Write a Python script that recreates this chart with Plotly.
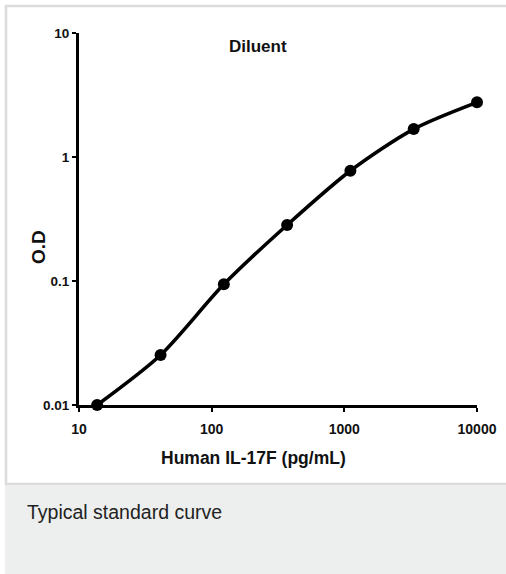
import plotly.graph_objects as go

# Data
concentration = [13.7, 41.2, 123.5, 370.4, 1111.1, 3333.3, 10000]
od_values = [0.01, 0.0253, 0.094, 0.283, 0.775, 1.68, 2.76]
x_tickvals = [10, 100, 1000, 10000]
x_ticktext = ["10", "100", "1000", "10000"]
y_tickvals = [0.01, 0.1, 1, 10]
y_ticktext = ["0.01", "0.1", "1", "10"]

W, H = 506, 574
L, R, T, B = 79, 477, 33, 405  # plot area pixel bounds


def px(xp):
    return (xp - L) / (R - L)


def py(yp):
    return (B - yp) / (B - T)


fig = go.Figure()
fig.add_trace(go.Scatter(
    x=concentration, y=od_values,
    mode="lines+markers",
    line=dict(color="black", width=3.6, shape="spline", smoothing=0.8),
    marker=dict(color="black", size=12),
    cliponaxis=False,
    showlegend=False,
))

axis_common = dict(
    showgrid=False, zeroline=False,
    showline=True, linecolor="black", linewidth=3,
    ticks="outside", ticklen=4, tickwidth=2, tickcolor="black",
)

fig.update_xaxes(type="log", range=[1, 4], tickvals=x_tickvals, ticktext=x_ticktext,
                 tickfont=dict(family="Liberation Sans, Arial, sans-serif", size=14,
                               color="#111", weight="bold"),
                 ticklabelstandoff=5,
                 **axis_common)
fig.update_yaxes(type="log", range=[-2, 1], tickvals=y_tickvals, ticktext=y_ticktext,
                 tickfont=dict(family="Liberation Sans, Arial, sans-serif", size=13.5,
                               color="#111", weight="bold"),
                 **axis_common)

shapes = [
    # outer light border of the chart card
    dict(type="rect", xref="paper", yref="paper",
         x0=px(6), x1=px(520), y0=py(484), y1=py(6),
         line=dict(color="#dcdcdc", width=2.5), fillcolor="rgba(0,0,0,0)", layer="below"),
    # caption band
    dict(type="rect", xref="paper", yref="paper",
         x0=px(5), x1=px(520), y0=py(580), y1=py(485),
         line=dict(width=0), fillcolor="#edefee", layer="below"),
]

annotations = [
    dict(text="Diluent", xref="paper", yref="paper", x=px(258), y=py(47),
         showarrow=False, xanchor="center", yanchor="middle",
         font=dict(family="Liberation Sans, Arial, sans-serif", size=17, color="#111", weight="bold")),
    dict(text="Human IL-17F (pg/mL)", xref="paper", yref="paper", x=px(253), y=py(458),
         showarrow=False, xanchor="center", yanchor="middle",
         font=dict(family="Liberation Sans, Arial, sans-serif", size=17.5, color="#111", weight="bold")),
    dict(text="O.D", xref="paper", yref="paper", x=px(39), y=py(247), textangle=-90,
         showarrow=False, xanchor="center", yanchor="middle",
         font=dict(family="Liberation Sans, Arial, sans-serif", size=19, color="#111", weight="bold")),
    dict(text="Typical standard curve", xref="paper", yref="paper", x=px(25), y=py(512),
         showarrow=False, xanchor="left", yanchor="middle",
         font=dict(family="Liberation Sans, Arial, sans-serif", size=19.5, color="#222")),
]

fig.update_layout(
    width=W, height=H,
    margin=dict(l=L, r=W - R, t=T, b=H - B, autoexpand=False),
    paper_bgcolor="white", plot_bgcolor="white",
    shapes=shapes, annotations=annotations,
)

fig.write_html("out.html", config={"displayModeBar": False},
               post_script="document.body.style.margin='0';document.body.style.overflow='hidden';")
